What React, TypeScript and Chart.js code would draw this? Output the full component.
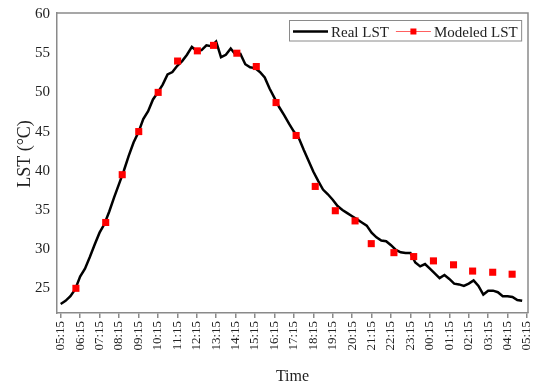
import React, { useEffect, useRef } from "react";
import { Chart, registerables } from "chart.js";

Chart.register(...registerables);

// Hour labels along the time axis (one tick per hour, 05:15 to 05:15 next day)
const xTickLabels = [
  "05:15", "06:15", "07:15", "08:15", "09:15", "10:15", "11:15", "12:15",
  "13:15", "14:15", "15:15", "16:15", "17:15", "18:15", "19:15", "20:15",
  "21:15", "22:15", "23:15", "00:15", "01:15", "02:15", "03:15", "04:15", "05:15",
];

const yTicks = [25, 30, 35, 40, 45, 50, 55, 60];
const yTitle = "LST (°C)";

// Measured land surface temperature, every 15 minutes from 05:15
const realStep = 0.25; // hours
const realLST = [
  23.0, 23.4, 24.0, 24.9, 26.5, 27.5, 29.0, 30.6, 32.1, 33.2,
  34.8, 36.6, 38.3, 40.0, 41.9, 43.6, 44.9, 46.6, 47.6, 49.1,
  50.0, 51.0, 52.3, 52.6, 53.4, 54.0, 54.8, 55.8, 55.3, 55.4,
  56.0, 55.9, 56.5, 54.5, 54.8, 55.6, 54.8, 54.9, 53.6, 53.2,
  53.1, 52.6, 51.9, 50.5, 49.3, 48.1, 47.1, 46.0, 45.0, 44.2,
  42.7, 41.3, 39.9, 38.7, 37.6, 37.0, 36.3, 35.5, 35.0, 34.6,
  34.2, 33.8, 33.4, 33.0, 32.1, 31.5, 31.1, 31.0, 30.5, 29.9,
  29.6, 29.5, 29.5, 28.3, 27.8, 28.1, 27.5, 26.9, 26.3, 26.7,
  26.2, 25.6, 25.5, 25.3, 25.6, 26.0, 25.3, 24.2, 24.7, 24.7,
  24.5, 24.0, 24.0, 23.9, 23.5, 23.4,
];

// Modeled LST at its own sample times
const modeledTimes = [
  "06:02", "07:34", "08:25", "09:16", "10:16", "11:16", "12:17", "13:07",
  "14:19", "15:19", "16:20", "17:22", "18:21", "19:23", "20:24", "21:14",
  "22:24", "23:25", "00:26", "01:28", "02:27", "03:29", "04:29",
];
const modeledLST = [
  25.0, 33.4, 39.5, 45.0, 50.0, 54.0, 55.3, 56.0,
  55.0, 53.3, 48.7, 44.5, 38.0, 34.9, 33.6, 30.7,
  29.55, 29.05, 28.5, 28.0, 27.2, 27.05, 26.8,
];

const START_MIN = 5 * 60 + 15;
const hoursSinceStart = (t: string) => {
  const [h, m] = t.split(":").map(Number);
  return (((h * 60 + m - START_MIN) % 1440) + 1440) % 1440 / 60;
};

const FONT = "'Liberation Serif', 'Times New Roman', serif";
const TEXT = "#222";
const AXIS = "#8a8a8a";

// Frame around the plot area, the vertical axis title, and a boxed legend
const framePlugin = {
  id: "plotFrame",
  beforeDatasetsDraw(chart: any) {
    const { ctx, chartArea: a } = chart;
    ctx.save();
    ctx.strokeStyle = AXIS;
    ctx.lineWidth = 1.5;
    ctx.beginPath();
    ctx.moveTo(a.left, a.top);
    ctx.lineTo(a.right, a.top);
    ctx.lineTo(a.right, a.bottom);
    ctx.stroke();
    ctx.restore();

    // vertical axis title, sitting slightly above the plot's middle
    ctx.save();
    ctx.translate(25, (a.top + a.bottom) / 2 - 9);
    ctx.rotate(-Math.PI / 2);
    ctx.font = `18px ${FONT}`;
    ctx.fillStyle = TEXT;
    ctx.textAlign = "center";
    ctx.textBaseline = "middle";
    ctx.fillText(yTitle, 0, 0);
    ctx.restore();
  },
  afterDraw(chart: any) {
    const { ctx, chartArea: a } = chart;
    const ds = chart.data.datasets;
    ctx.save();
    ctx.font = `15px ${FONT}`;
    const w1 = ctx.measureText(ds[0].label).width;
    const w2 = ctx.measureText(ds[1].label).width;
    const lineLen = 35;
    const boxW = 3.5 + lineLen + 3 + w1 + 7 + lineLen + 3 + w2 + 4;
    const boxH = 20.5;
    const bx = Math.round(a.right - 6.5 - boxW) + 0.5;
    const by = a.top + 7.5;
    ctx.fillStyle = "#fff";
    ctx.fillRect(bx, by, boxW, boxH);
    ctx.strokeStyle = AXIS;
    ctx.lineWidth = 1;
    ctx.strokeRect(bx, by, boxW, boxH);

    const cy = by + 11;
    let x = bx + 3.5;
    ctx.strokeStyle = ds[0].borderColor;
    ctx.lineWidth = 2.5;
    ctx.beginPath();
    ctx.moveTo(x, cy);
    ctx.lineTo(x + lineLen, cy);
    ctx.stroke();
    x += lineLen + 3;
    ctx.fillStyle = TEXT;
    ctx.textBaseline = "alphabetic";
    ctx.fillText(ds[0].label, x, cy + 5);
    x += w1 + 7;

    ctx.strokeStyle = "#ff6060";
    ctx.lineWidth = 1;
    ctx.beginPath();
    ctx.moveTo(x, cy);
    ctx.lineTo(x + lineLen, cy);
    ctx.stroke();
    ctx.fillStyle = ds[1].backgroundColor;
    ctx.fillRect(x + lineLen / 2 - 3, cy - 3, 6, 6);
    x += lineLen + 3;
    ctx.fillStyle = TEXT;
    ctx.fillText(ds[1].label, x, cy + 5);
    ctx.restore();
  },
};

export default function App() {
  const canvasRef = useRef<HTMLCanvasElement | null>(null);

  useEffect(() => {
    const canvas = canvasRef.current;
    if (!canvas) return;

    const realPoints = realLST.map((v, i) => ({ x: i * realStep, y: v }));
    const modeledPoints = modeledLST.map((v, i) => ({
      x: hoursSinceStart(modeledTimes[i]),
      y: v,
    }));

    const chart = new Chart(canvas, {
      type: "line",
      data: {
        datasets: [
          {
            label: "Real LST",
            data: realPoints,
            borderColor: "#000",
            backgroundColor: "#000",
            borderWidth: 2.5,
            pointRadius: 0,
            tension: 0,
            order: 2,
          },
          {
            label: "Modeled LST",
            data: modeledPoints,
            showLine: false,
            borderColor: "#ff0000",
            backgroundColor: "#ff0000",
            pointStyle: "rect",
            pointRadius: 5,
            pointBorderWidth: 0,
            order: 1,
          },
        ],
      },
      plugins: [framePlugin],
      options: {
        animation: false,
        responsive: false,
        devicePixelRatio: 1,
        layout: { padding: { left: 0, top: 13, right: 7, bottom: 0 } },
        plugins: {
          legend: { display: false },
          tooltip: { enabled: false },
        },
        scales: {
          x: {
            type: "linear",
            min: -0.19,
            max: 24.05,
            afterBuildTicks: (s: any) => {
              s.ticks = xTickLabels.map((_, i) => ({ value: i }));
            },
            afterFit: (s: any) => {
              s.height = 70;
              s.paddingLeft = 0;
              s.paddingRight = 0;
            },
            ticks: {
              autoSkip: false,
              maxRotation: 90,
              minRotation: 90,
              padding: 3,
              color: TEXT,
              font: { family: FONT, size: 13 },
              callback: (v: any) => xTickLabels[Math.round(Number(v))],
            },
            grid: {
              display: true,
              drawOnChartArea: false,
              drawTicks: true,
              tickLength: 5,
              color: AXIS,
              lineWidth: 1.5,
            },
            border: { display: true, color: AXIS, width: 1.5 },
            title: {
              display: true,
              text: "Time",
              color: TEXT,
              font: { family: FONT, size: 16, lineHeight: 0.8 },
              padding: { top: 0, bottom: 0 },
            },
          },
          y: {
            type: "linear",
            min: 21.85,
            max: 60.13,
            afterBuildTicks: (s: any) => {
              s.ticks = yTicks.map((v) => ({ value: v }));
            },
            afterFit: (s: any) => {
              s.width = 57;
              s.paddingTop = 0;
              s.paddingBottom = 0;
            },
            ticks: {
              padding: 7,
              color: TEXT,
              font: { family: FONT, size: 15 },
            },
            grid: { display: false, drawTicks: false, tickLength: 0 },
            border: { display: true, color: AXIS, width: 1.5 },
            title: { display: false },
          },
        },
      },
    });

    return () => chart.destroy();
  }, []);

  return (
    <div style={{ position: "absolute", left: 0, top: 0, width: 535, height: 383, background: "#fff" }}>
      <canvas ref={canvasRef} width={535} height={383} style={{ display: "block" }} />
    </div>
  );
}
